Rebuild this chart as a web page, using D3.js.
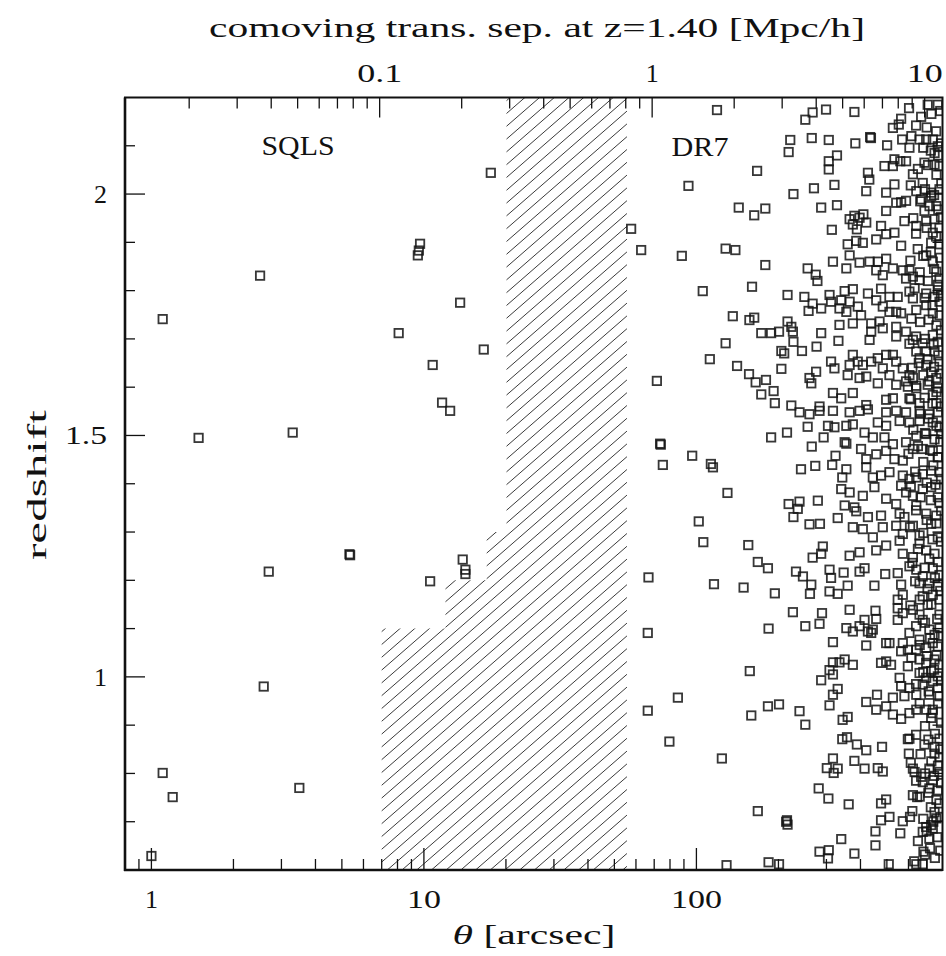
<!DOCTYPE html>
<html><head><meta charset="utf-8">
<script src="https://cdn.jsdelivr.net/npm/d3@7"></script>
<style>body{margin:0;background:#fff}svg{display:block}</style>
</head><body>
<svg id="c" width="946" height="956"></svg>
<script>
// ---------------- DATA ----------------
const xTickValues = [1, 10, 100];
const xTickLabels = ["1", "10", "100"];
const topTickValues = [0.1, 1, 10];          // Mpc/h
const topTickLabels = ["0.1", "1", "10"];
const yTickValues = [1, 1.5, 2];
const yTickLabels = ["1", "1.5", "2"];
const arcsecPerMpc = 68.8;                    // at z = 1.40
// hatched (excluded) region: [zLow, zHigh, thetaMin]
const hatchSteps = [[0.6, 1.1, 7.0], [1.1, 1.2, 12.0], [1.2, 1.3, 17.0], [1.3, 2.2, 20.1]];
const hatchThetaMax = 55.6;

// SQLS pairs [theta arcsec, z]
const sqls = [
 [1.10,1.741],[2.505,1.831],[1.49,1.495],[3.30,1.506],[5.33,1.254],[5.36,1.252],
 [2.695,1.218],[2.583,0.980],[1.10,0.801],[1.197,0.751],[3.49,0.770],[1.0,0.629],
 [17.6,2.044],[9.68,1.897],[9.58,1.883],[9.50,1.873],[13.58,1.775],[8.08,1.712],
 [16.58,1.678],[10.77,1.646],[11.66,1.568],[12.48,1.551],[13.88,1.243],[14.2,1.222],
 [14.2,1.213],[10.54,1.198]
];

// DR7 pairs [theta arcsec, z]
const dr7a = [
 [119,2.174],[251,2.154],[267,2.169],[299,2.175],[380,2.170],[526,2.137],[564,2.156],[553,2.144],
 [221,2.112],[218,2.087],[265,2.116],[306,2.112],[383,2.105],[434,2.118],[437,2.116],[501,2.101],
 [569,2.113],[605,2.096],[659,2.113],[697,2.113],[737,2.113],[769,2.099],[748,2.085],[306,2.068],
 [328,2.080],[306,2.051],[167,2.048],[93.5,2.017],[227,2.000],[270,2.012],[321,2.019],[426,2.044],
 [431,2.030],[420,2.006],[490,2.058],[533,2.072],[560,2.068],[588,2.068],[526,2.058],[687,2.065],
 [748,2.061],[780,2.058],[497,2.003],[533,2.020],[623,2.041],[677,2.023],[641,2.006],[727,2.003],
 [780,2.010],[143,1.972],[163,1.956],[179,1.970],[287,1.972],[328,1.977],[497,1.965],[541,1.982],
 [564,1.983],[588,1.986],[668,1.989],[727,1.996],[759,1.975],[687,1.965],[57.6,1.928],[314,1.926],
 [365,1.948],[380,1.955],[397,1.951],[410,1.958],[375,1.937],[420,1.941],[388,1.927],[476,1.934],
 [497,1.917],[533,1.920],[580,1.944],[641,1.934],[697,1.944],[748,1.948],[737,1.920],[780,1.930],
 [359,1.896],[386,1.903],[408,1.899],[457,1.906],[564,1.893],[649,1.886],[727,1.899],[780,1.896],
 [62.7,1.884],[128,1.887],[139,1.884],[706,2.185],[769,2.185]
];
const dr7b = [
 [88.4,1.872],[179,1.853],[256,1.846],[274,1.833],[278,1.820],[317,1.860],[355,1.846],[397,1.858],
 [432,1.860],[463,1.860],[497,1.866],[365,1.873],[457,1.842],[483,1.832],[526,1.846],[572,1.842],
 [605,1.842],[623,1.829],[659,1.822],[697,1.873],[737,1.860],[759,1.839],[780,1.825],[588,1.825],
 [105.5,1.799],[160,1.808],[216,1.791],[249,1.787],[267,1.773],[287,1.763],[258,1.758],[308,1.791],
 [312,1.777],[350,1.799],[375,1.803],[340,1.780],[365,1.777],[335,1.763],[355,1.756],[391,1.767],
 [402,1.749],[426,1.794],[476,1.804],[457,1.780],[511,1.787],[548,1.787],[483,1.767],[511,1.756],
 [541,1.756],[564,1.753],[605,1.798],[623,1.784],[641,1.760],[697,1.794],[697,1.770],[748,1.787],
 [780,1.777],[737,1.753],[780,1.749],[769,1.801],[136,1.747],[156.5,1.739],[163,1.744],[216,1.736],
 [223,1.725],[226,1.715],[173,1.712],[188,1.712],[201,1.715],[287,1.712],[335,1.729],[375,1.732],
 [438,1.732],[438,1.715],[470,1.736],[483,1.722],[541,1.725],[588,1.715],[541,1.705],[432,1.698],
 [128,1.691],[227,1.694],[244,1.675],[276,1.684],[205,1.675],[210,1.670],[332,1.696],[623,1.698],
 [677,1.691],[737,1.708],[769,1.694],[697,1.674],[641,1.674],[748,1.674],[112,1.658],[141,1.644],
 [205,1.638],[156,1.627],[165,1.610],[180,1.615],[173,1.585],[192,1.592],[312,1.653],[321,1.639],
 [275,1.632],[260,1.619],[264,1.608],[375,1.667],[391,1.653],[365,1.646],[408,1.646],[438,1.653],
 [463,1.660],[497,1.667],[526,1.667],[541,1.653],[483,1.639],[511,1.625],[572,1.639],[605,1.625],
 [588,1.612],[623,1.619],[659,1.660],[697,1.646],[727,1.632],[780,1.653],[759,1.619],[359,1.625],
 [397,1.619],[420,1.622],[463,1.608],[541,1.605],[597,1.601],[641,1.598],[706,1.605],[769,1.598],
 [71.6,1.613],[317,1.588],[340,1.577],[375,1.588],[497,1.574],[526,1.577],[605,1.577],[659,1.567],
 [737,1.584],[759,1.567],[194,1.567],[223,1.562],[283,1.560],[420,1.563]
];
const dr7c = [
 [239,1.548],[260,1.544],[283,1.551],[317,1.551],[365,1.548],[397,1.551],[426,1.554],[497,1.548],
 [541,1.551],[588,1.548],[659,1.551],[716,1.544],[769,1.548],[463,1.527],[497,1.520],[557,1.530],
 [605,1.527],[659,1.530],[737,1.527],[780,1.517],[256,1.518],[304,1.520],[321,1.517],[355,1.520],
 [375,1.523],[188,1.496],[215,1.506],[73.6,1.483],[74,1.481],[96.5,1.458],[75.3,1.439],[113,1.441],
 [115,1.434],[265,1.477],[293,1.496],[350,1.486],[355,1.483],[414,1.506],[444,1.496],[490,1.496],
 [526,1.482],[588,1.486],[641,1.499],[697,1.503],[748,1.492],[791,1.503],[402,1.472],[420,1.451],
 [457,1.461],[497,1.468],[533,1.451],[572,1.448],[623,1.472],[677,1.472],[737,1.468],[769,1.455],
 [242,1.430],[273,1.437],[315,1.439],[324,1.458],[355,1.430],[343,1.413],[420,1.434],[444,1.413],
 [476,1.417],[511,1.424],[572,1.417],[605,1.410],[641,1.413],[677,1.420],[727,1.427],[780,1.424],
 [130,1.381],[340,1.389],[365,1.382],[408,1.375],[450,1.393],[497,1.369],[564,1.396],[588,1.382],
 [623,1.375],[677,1.389],[727,1.393],[769,1.372],[218,1.358],[239,1.363],[279,1.365],[227,1.331],
 [235.5,1.348],[350,1.355],[380,1.351],[386,1.343],[102,1.322],[260,1.316],[284,1.317],[330,1.329],
 [426,1.331],[476,1.334],[557,1.338],[580,1.331],[641,1.355],[697,1.338],[759,1.334],[791,1.344],
 [541,1.358],[375,1.310],[408,1.306],[444,1.289],[483,1.310],[541,1.313],[572,1.296],[623,1.313],
 [659,1.293],[727,1.317],[769,1.289],[106,1.279],[155,1.273],[291,1.270],[287,1.255],[267,1.247],
 [365,1.251],[397,1.258],[457,1.262],[497,1.272],[557,1.282],[572,1.255],[623,1.248],[659,1.276],
 [697,1.262],[748,1.255],[168,1.238]
];
const dr7d = [
 [183,1.225],[232,1.218],[246,1.208],[264,1.191],[261,1.172],[308,1.222],[312,1.205],[347,1.216],
 [359,1.189],[330,1.172],[308,1.177],[397,1.218],[414,1.225],[450,1.189],[493,1.213],[548,1.215],
 [564,1.191],[605,1.229],[641,1.222],[677,1.208],[737,1.225],[780,1.211],[659,1.194],[716,1.194],
 [769,1.187],[66.7,1.206],[116,1.192],[149,1.185],[194,1.173],[572,1.170],[548,1.160],[677,1.167],
 [737,1.170],[706,1.149],[780,1.160],[226,1.134],[289,1.132],[365,1.139],[454,1.137],[548,1.142],
 [572,1.132],[623,1.139],[659,1.129],[677,1.118],[548,1.118],[780,1.129],[283,1.110],[251,1.105],
 [184,1.100],[414,1.118],[457,1.120],[397,1.105],[355,1.101],[375,1.094],[426,1.094],[444,1.098],
 [438,1.091],[605,1.091],[659,1.077],[716,1.098],[748,1.087],[780,1.101],[737,1.070],[66.3,1.091],
 [317,1.072],[420,1.065],[497,1.070],[511,1.070],[572,1.070],[597,1.056],[564,1.053],[641,1.056],
 [697,1.060],[769,1.063],[350,1.036],[317,1.030],[335,1.030],[375,1.025],[476,1.029],[497,1.032],
 [518,1.025],[597,1.022],[659,1.036],[697,1.029],[748,1.036],[780,1.025],[157,1.012],[308,1.014],
 [317,1.005],[287,0.993],[557,0.998],[659,1.008],[727,1.012],[769,1.001],[697,0.998],[737,0.991],
 [564,0.981],[605,0.977],[677,0.984],[769,0.977],[85.5,0.957],[330,0.975],[317,0.963],[308,0.941],
 [420,0.948],[460,0.963],[526,0.957],[580,0.960],[641,0.963],[716,0.963],[780,0.960],[66.3,0.930],
 [183,0.939],[201,0.943],[239,0.929],[457,0.932],[497,0.939],[526,0.922],[641,0.932],[697,0.932],
 [737,0.932],[727,0.915],[159,0.920],[359,0.917]
];
const dr7e = [
 [251,0.901],[344,0.911],[564,0.913],[79.6,0.866],[124,0.831],[343,0.871],[357,0.875],[388,0.860],
 [420,0.848],[480,0.855],[317,0.831],[301,0.811],[330,0.810],[319,0.801],[380,0.826],[414,0.810],
 [463,0.811],[483,0.804],[605,0.872],[597,0.871],[602,0.841],[687,0.860],[748,0.855],[780,0.872],
 [748,0.841],[780,0.834],[623,0.810],[632,0.803],[668,0.793],[677,0.782],[716,0.810],[737,0.786],
 [780,0.803],[716,0.769],[769,0.765],[281,0.769],[305,0.748],[362,0.736],[623,0.755],[646,0.751],
 [497,0.746],[476,0.738],[168,0.722],[213.5,0.700],[216,0.694],[215,0.703],[476,0.703],[511,0.710],
 [572,0.701],[608,0.710],[748,0.720],[727,0.693],[697,0.689],[737,0.686],[677,0.679],[716,0.665],
 [780,0.738],[759,0.707],[560,0.676],[454,0.680],[340,0.664],[454,0.651],[681,0.638],[380,0.634],
 [283,0.638],[306,0.641],[304,0.624],[129,0.610],[184,0.616],[201,0.612],[508,0.612],[641,0.612],
 [677,0.612]
];
// DR7, densest strip near the right edge (read from the overview)
const dr7f = [
 [603,2.178],[668,2.160],[728,2.166],[785,2.172],[640,2.142],[700,2.138],[758,2.130],[790,2.105],
 [615,2.120],[680,2.096],[725,2.090],[771,2.080],[650,2.052],[708,2.060],[760,2.040],[792,2.022],
 [612,2.018],[690,2.010],[745,1.998],[663,1.985],[717,1.975],[772,1.968],[625,1.950],[790,1.952],
 [700,1.930],[758,1.912],[640,1.918],[680,1.872],[725,1.880],[785,1.868],[610,1.862],[745,1.845],
 [660,1.838],[707,1.820],[770,1.812],[632,1.805],[790,1.790],[688,1.785],[735,1.770],[615,1.742],
 [662,1.735],[760,1.728],[712,1.740],[790,1.718],[640,1.705],[690,1.700],[742,1.688],[605,1.690],
 [772,1.666],[705,1.658],[655,1.650],[620,1.640],[745,1.642],[680,1.625],[790,1.628],[715,1.612],
 [640,1.603],[760,1.590],[688,1.578],[612,1.575],[735,1.566],[790,1.560],[662,1.545],[710,1.535],
 [760,1.520],[625,1.512],[690,1.505],[785,1.487],[650,1.478],[720,1.470],[600,1.462],[770,1.455],
 [680,1.445],[740,1.438],[635,1.425],[790,1.410],[700,1.402],[755,1.398],[612,1.395],[665,1.372],
 [725,1.366],[780,1.360],[640,1.345],[700,1.325],[760,1.318],[608,1.310],[680,1.298],[735,1.285],
 [790,1.280],[650,1.265],[715,1.245],[770,1.238],[620,1.236],[688,1.226],[750,1.205],[635,1.198],
 [705,1.182],[785,1.178],[660,1.160],[728,1.150],[610,1.148],[765,1.120],[690,1.112],[640,1.105],
 [790,1.085],[720,1.080],[660,1.066],[760,1.045],[700,1.043],[615,1.040],[745,1.015],[680,1.010],
 [790,0.992],[640,0.985],[712,0.970],[770,0.945],[660,0.945],[735,0.925],[605,0.925],[790,0.905],
 [690,0.898],[750,0.882],[640,0.880],[710,0.870],[785,0.850],[665,0.840],[728,0.825],[612,0.822],
 [770,0.816],[690,0.800],[745,0.795],[640,0.785],[790,0.780],[710,0.760],[660,0.752],[760,0.745],
 [725,0.730],[620,0.722],[785,0.710],[680,0.706],[740,0.700],[700,0.680],[765,0.668],[650,0.660],
 [720,0.645],[785,0.640],[690,0.632],[750,0.625],[630,0.618]
];

// ---------------- CHART ----------------
const L = 125, R = 942.5, T = 97.5, B = 870;
const x = d3.scaleLog().domain([0.8, 800]).range([L, R]);
const y = d3.scaleLinear().domain([0.6, 2.2]).range([B, T]);
const svg = d3.select("#c");
const FONT = "'Liberation Serif', 'DejaVu Serif', serif";
const defs = svg.append("defs");
defs.append("clipPath").attr("id", "plotclip").append("rect")
  .attr("x", L).attr("y", T).attr("width", R - L).attr("height", B - T);

// hatch region polygon
const hp = [[x(hatchThetaMax), y(0.6)]];
hatchSteps.forEach(s => { hp.push([x(s[2]), y(s[0])]); hp.push([x(s[2]), y(s[1])]); });
hp.push([x(hatchThetaMax), y(2.2)]);
defs.append("clipPath").attr("id", "hatchclip").append("polygon")
  .attr("points", hp.map(p => p.join(",")).join(" "));
const hatchG = svg.append("g").attr("clip-path", "url(#hatchclip)");
const slope = 0.87, step = 12.8, x0 = x(5), x1 = x(70);
for (let c = T - 20; c < B + slope * (x1 - x0) + 20; c += step) {
  hatchG.append("line").attr("x1", x0).attr("y1", c).attr("x2", x1).attr("y2", c - slope * (x1 - x0))
    .attr("stroke", "#3a3a3a").attr("stroke-width", 1.0);
}

// points
const all = sqls.concat(dr7a, dr7b, dr7c, dr7d, dr7e, dr7f);
svg.append("g").attr("clip-path", "url(#plotclip)")
  .selectAll("rect").data(all).join("rect")
  .attr("x", d => x(d[0]) - 4.2).attr("y", d => y(d[1]) - 4.2)
  .attr("width", 8.4).attr("height", 8.4)
  .attr("fill", "none").attr("stroke", "#141414").attr("stroke-opacity", 0.85).attr("stroke-width", 1.8);

// ticks
const tk = svg.append("g").attr("stroke", "#111").attr("stroke-width", 1.3);
function decadeMinors(lo, hi) { const a = []; for (let d = lo; d < hi; d *= 10) for (let k = 2; k <= 9; k++) a.push(k * d); return a; }
const bottomMinor = [0.8, 0.9].concat(decadeMinors(1, 1000)).filter(v => v < 800);
bottomMinor.forEach(v => { const px = x(v);
  tk.append("line").attr("x1", px).attr("x2", px).attr("y1", B).attr("y2", B - 11); });
xTickValues.forEach(v => { const px = x(v);
  tk.append("line").attr("x1", px).attr("x2", px).attr("y1", B).attr("y2", B - 22); });
const topMinor = decadeMinors(0.01, 10).filter(v => v * arcsecPerMpc > 0.8 && v * arcsecPerMpc < 800);
topMinor.forEach(v => { const px = x(v * arcsecPerMpc);
  tk.append("line").attr("x1", px).attr("x2", px).attr("y1", T).attr("y2", T + 11); });
topTickValues.forEach(v => { const px = x(v * arcsecPerMpc);
  tk.append("line").attr("x1", px).attr("x2", px).attr("y1", T).attr("y2", T + 20); });
const yMinor = d3.range(7, 22).map(v => v / 10).filter(v => !yTickValues.some(m => Math.abs(m - v) < 1e-6));
yMinor.forEach(v => { const py = y(v);
  tk.append("line").attr("x1", L).attr("x2", L + 10).attr("y1", py).attr("y2", py);
  tk.append("line").attr("x1", R).attr("x2", R - 10).attr("y1", py).attr("y2", py); });
yTickValues.forEach(v => { const py = y(v);
  tk.append("line").attr("x1", L).attr("x2", L + 20).attr("y1", py).attr("y2", py);
  tk.append("line").attr("x1", R).attr("x2", R - 20).attr("y1", py).attr("y2", py); });

// frame
svg.append("rect").attr("x", L).attr("y", T).attr("width", R - L).attr("height", B - T)
  .attr("fill", "none").attr("stroke", "#111").attr("stroke-width", 2);
svg.append("line").attr("x1", L).attr("x2", L).attr("y1", T).attr("y2", B + 1).attr("stroke", "#111").attr("stroke-width", 2.6);
svg.append("line").attr("x1", L - 1).attr("x2", R).attr("y1", B).attr("y2", B).attr("stroke", "#111").attr("stroke-width", 2.6);

// text
const txt = svg.append("g").attr("font-family", FONT).attr("fill", "#111");
xTickValues.forEach((v, i) => {
  const t = txt.append("text").attr("x", x(v)).attr("y", 908).attr("text-anchor", "middle")
    .attr("font-size", 26).text(xTickLabels[i]);
  if (xTickLabels[i].length > 1) t.attr("textLength", 17 * xTickLabels[i].length).attr("lengthAdjust", "spacingAndGlyphs");
});
topTickValues.forEach((v, i) => {
  const lab = topTickLabels[i];
  const t = txt.append("text").attr("x", x(v * arcsecPerMpc)).attr("y", 82).attr("text-anchor", "middle")
    .attr("font-size", 26).text(lab);
  if (lab.length > 1) t.attr("textLength", lab === "0.1" ? 45 : 36).attr("lengthAdjust", "spacingAndGlyphs");
});
yTickValues.forEach((v, i) => {
  const lab = yTickLabels[i];
  const t = txt.append("text").attr("x", 107).attr("y", y(v) + 9).attr("text-anchor", "end")
    .attr("font-size", 26).text(lab);
  if (lab.length > 1) t.attr("textLength", 42).attr("lengthAdjust", "spacingAndGlyphs");
});
txt.append("text").attr("x", 537).attr("y", 37).attr("text-anchor", "middle").attr("font-size", 27)
  .attr("textLength", 656).attr("lengthAdjust", "spacingAndGlyphs")
  .text("comoving trans. sep. at z=1.40 [Mpc/h]");
const xl = txt.append("text").attr("x", 534).attr("y", 944).attr("text-anchor", "middle").attr("font-size", 27)
  .attr("textLength", 163).attr("lengthAdjust", "spacingAndGlyphs");
xl.append("tspan").attr("font-style", "italic").text("θ");
xl.append("tspan").text(" [arcsec]");
txt.append("text").attr("transform", "translate(46,485) rotate(-90)").attr("text-anchor", "middle")
  .attr("font-size", 27).attr("textLength", 150).attr("lengthAdjust", "spacingAndGlyphs").text("redshift");
txt.append("text").attr("x", 298).attr("y", 155).attr("text-anchor", "middle").attr("font-size", 28)
  .attr("textLength", 73).attr("lengthAdjust", "spacingAndGlyphs").text("SQLS");
txt.append("text").attr("x", 700).attr("y", 156).attr("text-anchor", "middle").attr("font-size", 28)
  .attr("textLength", 57).attr("lengthAdjust", "spacingAndGlyphs").text("DR7");
</script>
</body></html>
